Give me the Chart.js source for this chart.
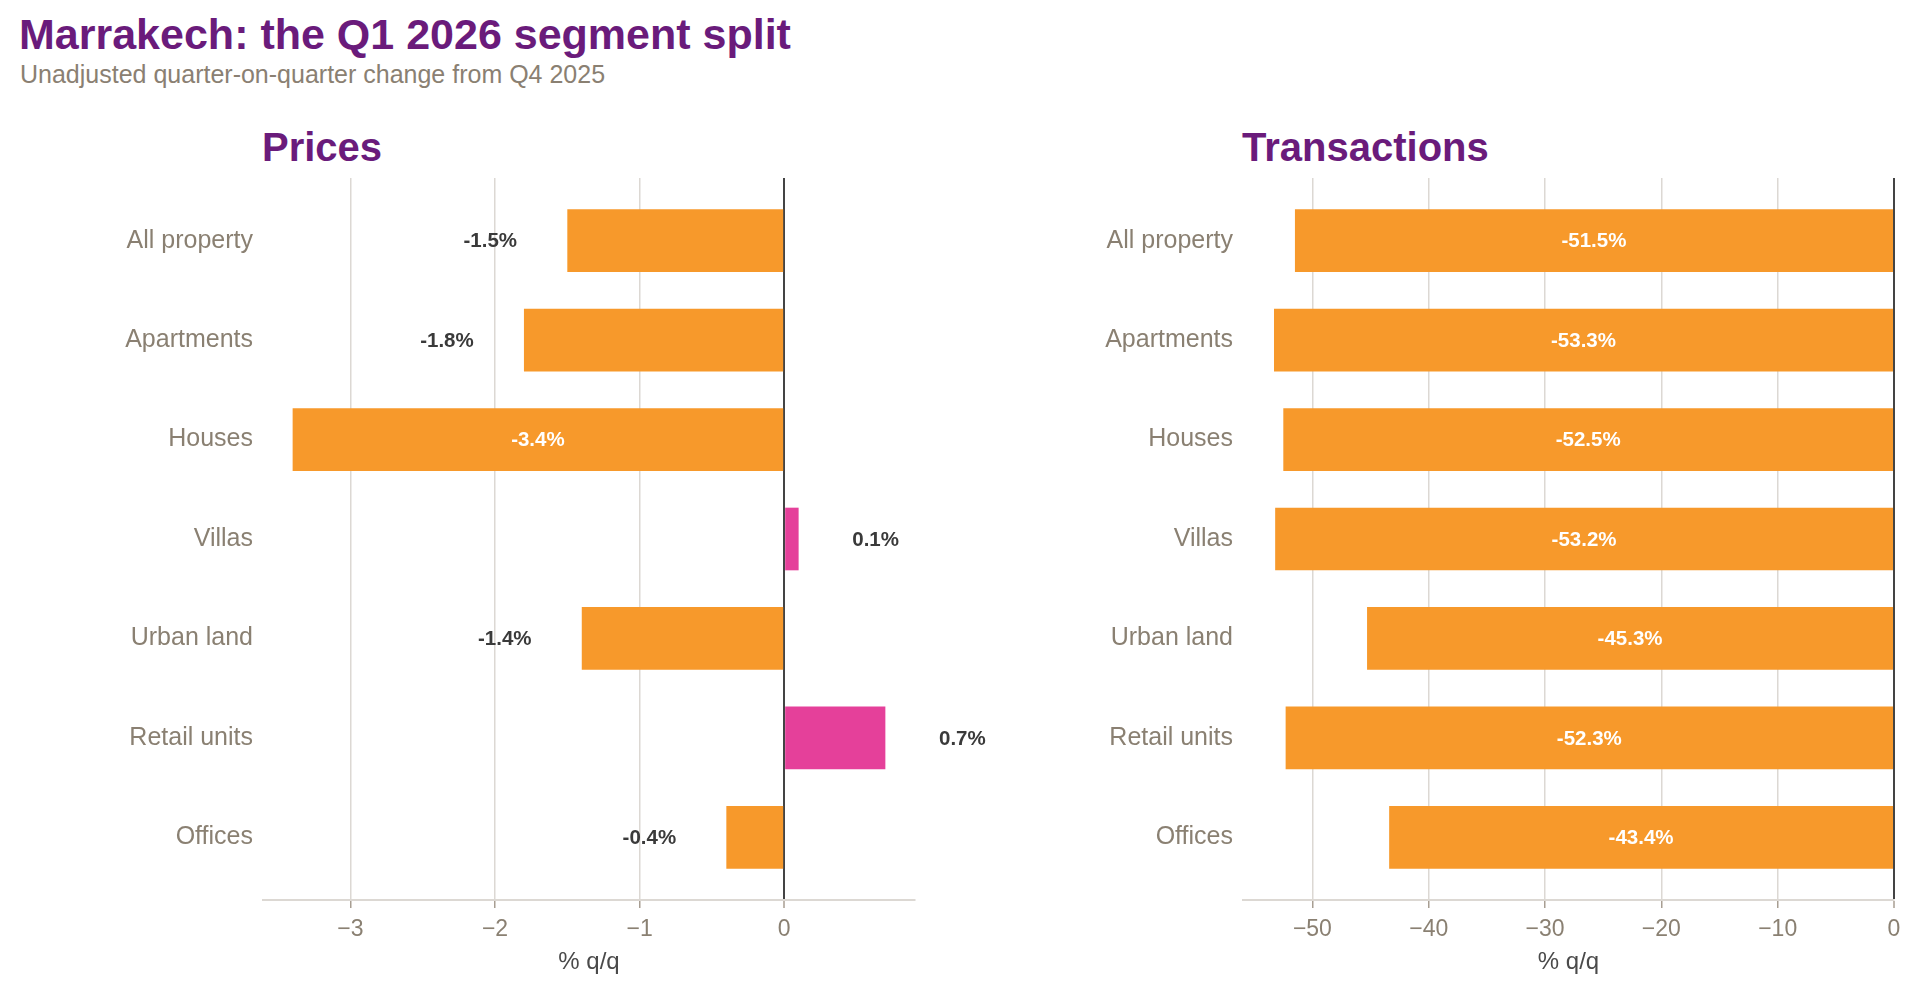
<!DOCTYPE html>
<html>
<head>
<meta charset="utf-8">
<script src="https://cdn.jsdelivr.net/npm/chart.js@4.4.1/dist/chart.umd.min.js"></script>
<style>
  html, body { margin: 0; padding: 0; background: #ffffff; }
  body { width: 1920px; height: 994px; overflow: hidden; position: relative;
         font-family: "Liberation Sans", Arial, sans-serif; }
  .t { position: absolute; white-space: nowrap; line-height: 1; }
  #title { left: 19px; top: 13px; font-size: 43px; font-weight: bold; color: #6a1b7b; }
  #sub { left: 20px; top: 62px; font-size: 25px; color: #8a8072; }
  .panel { top: 127px; font-size: 40px; font-weight: bold; color: #6a1b7b; }
  #pt { left: 262px; }
  #tt { left: 1242px; }
  canvas { position: absolute; top: 170px; }
  #cPrices { left: 0px; }
  #cTrans { left: 960px; }
</style>
</head>
<body>
<div id="title" class="t">Marrakech: the Q1 2026 segment split</div>
<div id="sub" class="t">Unadjusted quarter-on-quarter change from Q4 2025</div>
<div id="pt" class="t panel">Prices</div>
<div id="tt" class="t panel">Transactions</div>
<canvas id="cTrans" width="960" height="824"></canvas>
<canvas id="cPrices" width="1040" height="824"></canvas>
<script>
// ---- data ----
const categories = ["All property", "Apartments", "Houses", "Villas", "Urban land", "Retail units", "Offices"];
const priceChange = [-1.5, -1.8, -3.4, 0.1, -1.4, 0.7, -0.4];
const transactionChange = [-51.5, -53.3, -52.5, -53.2, -45.3, -52.3, -43.4];
const priceTicks = [-3, -2, -1, 0];
const transactionTicks = [-50, -40, -30, -20, -10, 0];
const priceRange = [-3.605, 0.905];
const transactionRange = [-55.965, 0];
const axisTitle = "% q/q";

// ---- style ----
const FONT = '"Liberation Sans", Arial, sans-serif';
const ORANGE = '#f7992b';
const PINK = '#e5409a';
const GRID = '#dcd8d3';
const ZERO = '#444444';
const TXT = '#8a8072';

const barLabels = {
  id: 'barLabels',
  afterDraw(chart) {
    const ctx = chart.ctx;
    const meta = chart.getDatasetMeta(0);
    const xs = chart.scales.x;
    const ds = chart.data.datasets[0];
    const range = xs.max - xs.min;
    ctx.save();
    ctx.font = 'bold 20.5px ' + FONT;
    ctx.textAlign = 'center';
    ctx.textBaseline = 'middle';
    meta.data.forEach((bar, i) => {
      const v = ds.data[i].x;
      const txt = v.toFixed(1) + '%';
      let x, color;
      if (Math.abs(v) / range > 0.6) {
        x = (bar.x + bar.base) / 2; color = '#ffffff';
      } else {
        x = bar.x + (v < 0 ? -1 : 1) * 77; color = '#3a3a3a';
      }
      ctx.fillStyle = color;
      ctx.fillText(txt, x, bar.y + 1);
    });
    ctx.restore();
  }
};

function fmtTick(v) {
  return v < 0 ? '\u2212' + Math.abs(v) : String(v);
}

function makeChart(id, values, ticks, range, yWidth, padRight) {
  const data = values.map((v, i) => ({ x: v, y: i + 1 }));
  return new Chart(document.getElementById(id), {
    type: 'bar',
    data: {
      datasets: [{
        data: data,
        backgroundColor: values.map(v => v < 0 ? ORANGE : PINK),
        borderWidth: 0,
        barPercentage: 0.63,
        categoryPercentage: 1
      }]
    },
    plugins: [barLabels],
    options: {
      responsive: false,
      animation: false,
      indexAxis: 'y',
      layout: { padding: { left: 0, right: padRight, top: 8, bottom: 0 } },
      plugins: { legend: { display: false }, tooltip: { enabled: false } },
      scales: {
        x: {
          type: 'linear',
          position: 'bottom',
          min: range[0],
          max: range[1],
          z: 1,
          afterBuildTicks: s => { s.ticks = ticks.map(v => ({ value: v })); },
          afterFit: s => { s.height = 94; s.paddingLeft = 0; s.paddingRight = 0; },
          grid: {
            color: c => (c.tick && c.tick.value === 0) ? ZERO : GRID,
            lineWidth: c => (c.tick && c.tick.value === 0) ? 2 : 1.5,
            drawTicks: true,
            tickLength: 8,
            tickColor: '#a89e92',
            tickWidth: 1.5
          },
          border: { display: true, color: GRID, width: 2 },
          ticks: {
            autoSkip: false, maxRotation: 0, padding: 8,
            color: TXT, font: { family: FONT, size: 23 },
            callback: v => fmtTick(v)
          },
          title: {
            display: true, text: axisTitle, color: '#4a4a4a',
            font: { family: FONT, size: 24 },
            padding: { top: 0, bottom: 17 }
          }
        },
        y: {
          type: 'linear',
          reverse: true,
          offset: false,
          min: 0.37,
          max: 7.63,
          afterBuildTicks: s => { s.ticks = categories.map((c, i) => ({ value: i + 1 })); },
          afterFit: s => { s.width = yWidth; s.paddingTop = 0; s.paddingBottom = 0; },
          grid: { display: false },
          border: { display: false },
          ticks: {
            autoSkip: false, padding: 2,
            color: TXT, font: { family: FONT, size: 25 },
            callback: v => categories[Math.round(v) - 1]
          }
        }
      }
    }
  });
}

makeChart('cPrices', priceChange, priceTicks, priceRange, 263, 125);
makeChart('cTrans', transactionChange, transactionTicks, transactionRange, 283, 26);
</script>
</body>
</html>
